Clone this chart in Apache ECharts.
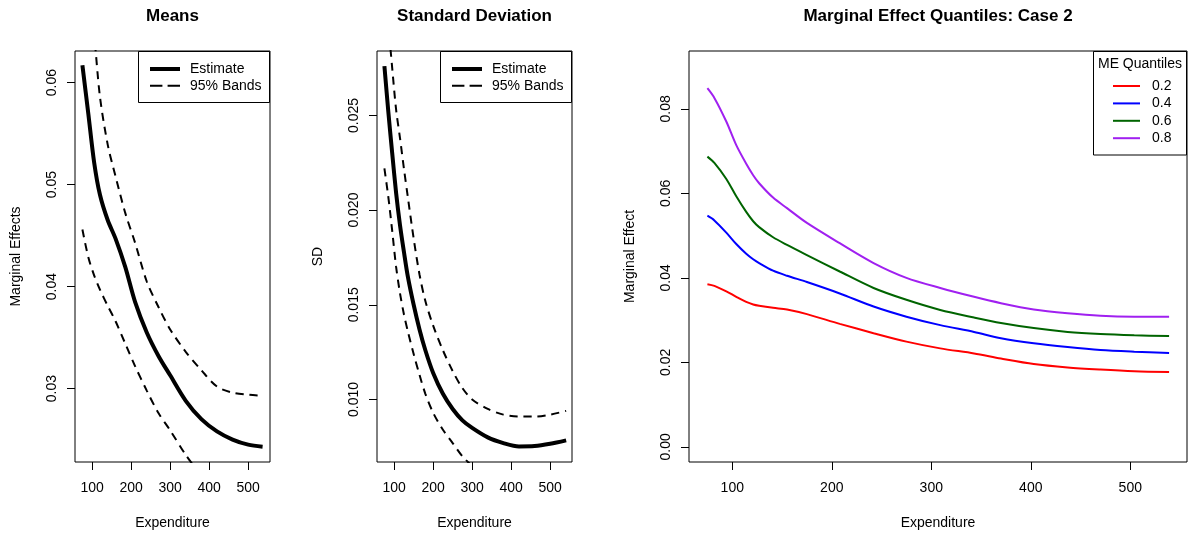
<!DOCTYPE html>
<html><head><meta charset="utf-8">
<script src="https://cdn.jsdelivr.net/npm/echarts@6/dist/echarts.min.js"></script>
<style>html,body{margin:0;padding:0;background:#fff}#c{width:1188px;height:535px}</style>
</head><body><div id="c"></div><script>
const FONT = '"Liberation Sans", Arial, Helvetica, sans-serif';

// ---- data ----
const xTicks = [100, 200, 300, 400, 500];

const meansX     = [75, 90, 105, 120, 140, 160, 185, 210, 240, 270, 300, 340, 380, 420, 460, 500, 537];
const meansEst   = [0.0617, 0.0570, 0.0522, 0.0490, 0.0465, 0.0447, 0.0419, 0.0385, 0.0355, 0.0332, 0.0313, 0.0288, 0.0270, 0.0258, 0.0250, 0.0245, 0.0243];
const meansUpper = [0.0720, 0.0685, 0.0646, 0.0586, 0.0539, 0.0508, 0.0472, 0.0443, 0.0405, 0.0380, 0.0358, 0.0336, 0.0318, 0.0302, 0.0296, 0.0294, 0.0293];
const meansLower = [0.0456, 0.0429, 0.0411, 0.0397, 0.0381, 0.0366, 0.0344, 0.0322, 0.0298, 0.0276, 0.0259, 0.0235, 0.0215, 0.0200, 0.0189, 0.0180, 0.0176];
const meansYTicks = [0.03, 0.04, 0.05, 0.06];

const sdX     = [75, 85, 95, 105, 115, 125, 135, 150, 165, 180, 200, 225, 250, 275, 300, 340, 380, 420, 460, 500, 541];
const sdEst   = [0.0276, 0.0252, 0.0230, 0.0209, 0.0192, 0.0178, 0.0165, 0.0150, 0.0137, 0.0126, 0.0114, 0.0103, 0.0095, 0.0089, 0.0085, 0.0080, 0.0077, 0.00752, 0.00754, 0.00766, 0.00784];
const sdUpper = [0.0322, 0.0298, 0.0275, 0.0253, 0.0238, 0.0222, 0.0207, 0.0185, 0.0166, 0.0152, 0.0139, 0.0126, 0.0115, 0.0106, 0.0100, 0.0095, 0.0092, 0.0091, 0.0091, 0.0092, 0.0094];
const sdLower = [0.0222, 0.0207, 0.0189, 0.0170, 0.0156, 0.0145, 0.0136, 0.0124, 0.0113, 0.0103, 0.0093, 0.0084, 0.0077, 0.0070, 0.0065, 0.0059, 0.0055, 0.0053, 0.0053, 0.0054, 0.0055];
const sdYTicks = [0.010, 0.015, 0.020, 0.025];

const quantX = [75, 82, 94, 104, 114, 121, 127, 141, 155, 175, 208, 242, 275, 309, 343, 370, 403, 437, 470, 504, 539];
const q02 = [0.0385, 0.0381, 0.0368, 0.0355, 0.0343, 0.0337, 0.0334, 0.0329, 0.0325, 0.0314, 0.0291, 0.0269, 0.0249, 0.0233, 0.0221, 0.0209, 0.0196, 0.0188, 0.0183, 0.0179, 0.0177];
const q04 = [0.0547, 0.0536, 0.0507, 0.0480, 0.0457, 0.0444, 0.0435, 0.0417, 0.0405, 0.0390, 0.0363, 0.0332, 0.0308, 0.0288, 0.0272, 0.0257, 0.0245, 0.0236, 0.0229, 0.0225, 0.0222];
const q06 = [0.0687, 0.0672, 0.0634, 0.0593, 0.0556, 0.0534, 0.0520, 0.0496, 0.0478, 0.0454, 0.0415, 0.0376, 0.0348, 0.0324, 0.0306, 0.0293, 0.0281, 0.0272, 0.0267, 0.0264, 0.0262];
const q08 = [0.0849, 0.0826, 0.0770, 0.0714, 0.0670, 0.0643, 0.0624, 0.0590, 0.0565, 0.0530, 0.0482, 0.0435, 0.0400, 0.0376, 0.0355, 0.0340, 0.0325, 0.0316, 0.0310, 0.0308, 0.0308];
const quantNames = ['0.2', '0.4', '0.6', '0.8'];
const quantColors = ['#FF0000', '#0000FF', '#006400', '#A020F0'];
const quantYTicks = [0.00, 0.02, 0.04, 0.06, 0.08];

const titles = ['Means', 'Standard Deviation', 'Marginal Effect Quantiles: Case 2'];
const yNames = ['Marginal Effects', 'SD', 'Marginal Effect'];
const xName = 'Expenditure';

// ---- helpers ----
const zip = (xs, ys) => xs.map((x, i) => [x, ys[i]]);
const txt = { color: '#000', fontFamily: FONT, fontSize: 14 };

function mkX(gi, min, max) {
  return {
    type: 'value', gridIndex: gi, min, max,
    name: xName, nameLocation: 'middle', nameGap: 54, nameTextStyle: Object.assign({}, txt),
    axisLine: { show: false, onZero: false },
    axisTick: { show: true, inside: false, length: 8, customValues: xTicks, lineStyle: { color: '#000', width: 1 } },
    axisLabel: Object.assign({ customValues: xTicks, margin: 19 }, txt),
    splitLine: { show: false }
  };
}
function mkY(gi, min, max, ticks, dec) {
  return {
    type: 'value', gridIndex: gi, min, max,
    name: yNames[gi], nameLocation: 'middle', nameGap: 52, nameTextStyle: Object.assign({}, txt),
    axisLine: { show: false, onZero: false },
    axisTick: { show: true, inside: false, length: 8, customValues: ticks, lineStyle: { color: '#000', width: 1 } },
    axisLabel: Object.assign({ customValues: ticks, margin: 16, rotate: 90, formatter: v => v.toFixed(dec) }, txt),
    splitLine: { show: false }
  };
}
const bandStyle = { color: '#000', width: 2, type: [8, 6] };
const estStyle = { color: '#000', width: 4 };
function line(name, gi, data, ls, z) {
  return { type: 'line', name, xAxisIndex: gi, yAxisIndex: gi, data, showSymbol: false, symbol: 'none',
    smooth: 0.3, lineStyle: ls, itemStyle: { color: ls.color }, z: z || 2, silent: true, animation: false, clip: true };
}

const series = [
  line('95% Bands', 0, zip(meansX, meansUpper), bandStyle),
  line('95% Bands', 0, zip(meansX, meansLower), bandStyle),
  line('Estimate', 0, zip(meansX, meansEst), estStyle, 3),
  line('95% Bands', 1, zip(sdX, sdUpper), bandStyle),
  line('95% Bands', 1, zip(sdX, sdLower), bandStyle),
  line('Estimate', 1, zip(sdX, sdEst), estStyle, 3)
];
[q02, q04, q06, q08].forEach((q, i) => {
  series.push(line(quantNames[i], 2, zip(quantX, q), { color: quantColors[i], width: 2 }));
});

const ICON_EST = 'path://M0,0H30V4H0Z';
const ICON_BAND = 'path://M0,0H12V2H0Z M17,0H29V2H17Z';
const ICON_Q = 'path://M0,0H27V2H0Z';
const bandLegendData = [{ name: 'Estimate', icon: ICON_EST }, { name: '95% Bands', icon: ICON_BAND }];

const gridBase = { show: true, borderColor: '#000', borderWidth: 1, backgroundColor: 'transparent', containLabel: false };
const legendBase = { orient: 'vertical', padding: 0, itemHeight: 14, selectedMode: false, symbolKeepAspect: true,
  itemStyle: { borderWidth: 0 },
  textStyle: Object.assign({ padding: [0, 0, 0, 5] }, txt) };

const option = {
  animation: false,
  backgroundColor: '#fff',
  textStyle: { fontFamily: FONT },
  grid: [
    Object.assign({ left: 75, top: 51, width: 195, height: 411 }, gridBase),
    Object.assign({ left: 377, top: 51, width: 195, height: 411 }, gridBase),
    Object.assign({ left: 689, top: 51, width: 498, height: 411 }, gridBase)
  ],
  xAxis: [mkX(0, 56, 556), mkX(1, 56, 556), mkX(2, 56.5, 557)],
  yAxis: [mkY(0, 0.0228, 0.0631, meansYTicks, 2), mkY(1, 0.0067, 0.0284, sdYTicks, 3), mkY(2, -0.0036, 0.0937, quantYTicks, 2)],
  legend: [
    Object.assign({}, legendBase, { left: 150, top: 62, itemWidth: 30, itemGap: 2.7, data: bandLegendData }),
    Object.assign({}, legendBase, { left: 452, top: 62, itemWidth: 30, itemGap: 2.7, data: bandLegendData }),
    Object.assign({}, legendBase, { left: 1113, top: 79, itemWidth: 27, itemGap: 3.4, icon: ICON_Q, data: quantNames,
      textStyle: Object.assign({ padding: [0, 0, 0, 7] }, txt) })
  ],
  graphic: [
    { type: 'text', x: 172.5, y: 16, style: { text: titles[0], fontSize: 17, fontWeight: 'bold', fontFamily: FONT, fill: '#000', align: 'center', verticalAlign: 'middle' } },
    { type: 'text', x: 474.5, y: 16, style: { text: titles[1], fontSize: 17, fontWeight: 'bold', fontFamily: FONT, fill: '#000', align: 'center', verticalAlign: 'middle' } },
    { type: 'text', x: 938, y: 16, style: { text: titles[2], fontSize: 17, fontWeight: 'bold', fontFamily: FONT, fill: '#000', align: 'center', verticalAlign: 'middle' } },
    { type: 'rect', shape: { x: 138.5, y: 51.5, width: 131, height: 51 }, style: { fill: 'transparent', stroke: '#000', lineWidth: 1 } },
    { type: 'rect', shape: { x: 440.5, y: 51.5, width: 131, height: 51 }, style: { fill: 'transparent', stroke: '#000', lineWidth: 1 } },
    { type: 'rect', shape: { x: 1093.5, y: 51.5, width: 93, height: 103.5 }, style: { fill: 'transparent', stroke: '#000', lineWidth: 1 } },
    { type: 'text', x: 1140, y: 64.5, style: { text: 'ME Quantiles', fontSize: 14, fontFamily: FONT, fill: '#000', align: 'center', verticalAlign: 'middle' } }
  ],
  series
};
const chart = echarts.init(document.getElementById('c'), null, { renderer: 'canvas' });
chart.setOption(option);
</script></body></html>
